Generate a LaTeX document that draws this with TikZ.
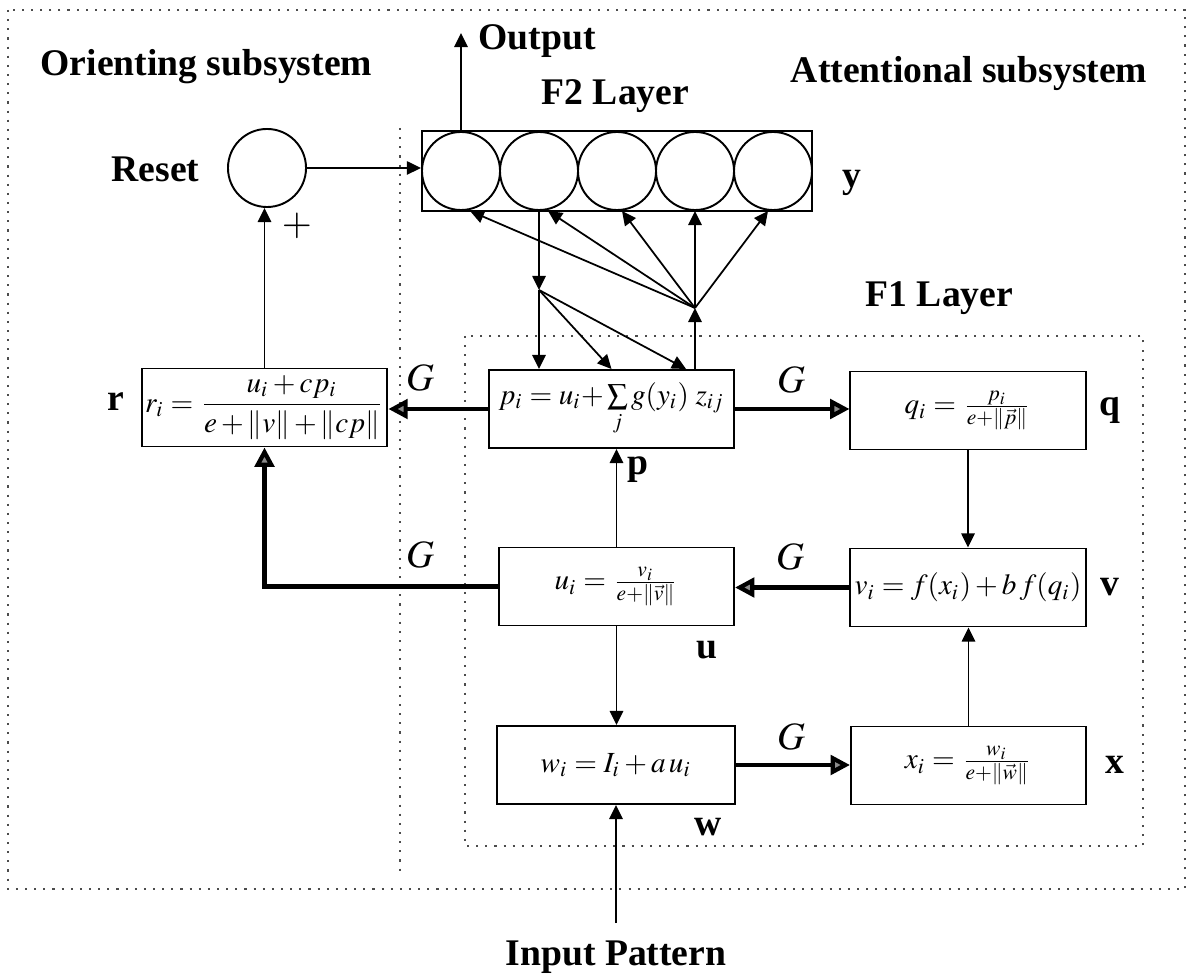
\documentclass[tikz,border=0pt]{standalone}
\usepackage{amsmath}
\usepackage{mathptmx}
\usepackage{fontspec}
\setmainfont{Liberation Serif}
\usetikzlibrary{arrows.meta, positioning, calc}

\begin{document}
\begin{tikzpicture}[x=0.01cm, y=-0.01cm,
  eqbox/.style={draw, line width=0.55pt, minimum width=2.35cm, minimum height=0.78cm, inner sep=1pt, font=\fontsize{8.3}{10}\selectfont},
  cell/.style={draw, circle, minimum size=0.78cm, inner sep=0pt, line width=0.55pt},
  lbl/.style={font=\bfseries\fontsize{10.7}{13}\selectfont, inner sep=0pt},
  gain/.style={font=\fontsize{11}{13}\selectfont, inner sep=0pt},
  zone/.style={dotted, line width=0.6pt, black!70},
  link/.style={line width=0.5pt, -{Triangle[length=4pt,width=3.8pt]}},
  gainlink/.style={line width=1.2pt, -{Triangle[length=5.5pt,width=5.5pt,fill=black!45]}}]
  \useasboundingbox (0,0) rectangle (1186,974);

  % dotted frames
  \draw[zone] (8,10) rectangle (1185,889);
  \draw[zone] (400,128) -- (400,874);
  \draw[zone] (465,336) rectangle (1143,846);

  % F2 layer and reset cell
  \node[draw, line width=0.55pt, minimum width=3.9cm, minimum height=0.8cm, inner sep=0pt] (F2) at (617,171) {};
  \foreach \i in {1,...,5}
    \node[cell] (c\i) at ({461+78*(\i-1)},171) {};
  \node[cell] (reset) at (267,168) {};

  % F1 layer equations
  \node[eqbox] (r) at (264.5,407.5) {$r_i = \dfrac{u_i + cp_i}{e+\|v\|+\|cp\|}$};
  \node[eqbox, minimum width=2.45cm] (p) at (611.5,409) {$p_i = u_i{+}\sum\limits_j g(y_i)\; z_{ij}$};
  \node[eqbox] (q) at (968,410.5) {$q_i = \frac{p_i}{e+\left\|\vec{p}\right\|}$};
  \node[eqbox] (u) at (616.5,586.5) {$u_i = \frac{v_i}{e+\left\|\vec{v}\right\|}$};
  \node[eqbox] (v) at (968,587.5) {$v_i = f(x_i) + b\, f(q_i)$};
  \node[eqbox, minimum width=2.38cm] (w) at (616,765) {$w_i = I_i + a\, u_i$};
  \node[eqbox] (x) at (968.5,765.5) {$x_i = \frac{w_i}{e+\left\|\vec{w}\right\|}$};

  \coordinate (out) at (461,33);
  \coordinate (fanUp) at (695,308);
  \coordinate (fanDown) at (539,290);
  \coordinate (inp) at (616,923);

  % titles and labels
  \node[lbl, anchor=base west] (orienting) at (40,76) {Orienting subsystem};
  \node[lbl, anchor=base east] (attentional) at (1148,83) {Attentional subsystem};
  \node[lbl, anchor=base west] (output) at (478,50) {Output};
  \node[lbl, anchor=base west] (f2name) at (541,105) {F2 Layer};
  \node[lbl, anchor=base west] (f1name) at (865,307) {F1 Layer};
  \node[lbl, anchor=base] (inname) at (616,965) {Input Pattern};
  \node[lbl, anchor=base west] (resetname) at (111,182) {Reset};
  \node[gain] (plus) at (297,226) {$+$};
  \node[lbl] (ylbl) at (852,183) {y};
  \node[lbl] (rlbl) at (116,402) {r};
  \node[lbl] (plbl) at (638,470) {p};
  \node[lbl] (qlbl) at (1110,410) {q};
  \node[lbl] (ulbl) at (707,650) {u};
  \node[lbl] (vlbl) at (1110,587) {v};
  \node[lbl] (wlbl) at (708,827) {w};
  \node[lbl] (xlbl) at (1115,765) {x};
  \node[gain] (g1) at (420,378) {$G$};
  \node[gain] (g2) at (791,380) {$G$};
  \node[gain] (g3) at (420,555) {$G$};
  \node[gain] (g4) at (790,557) {$G$};
  \node[gain] (g5) at (791,737) {$G$};

  % connectors around F2
  \draw[link] (c1.north) -- (out);
  \draw[link] (reset.east) -- (reset.east -| F2.west);
  \draw[link] (r.north) -- (r.north |- reset.south);
  \draw[link] (fanUp) -- ([xshift=0.09cm]c1.south);
  \draw[link] (fanUp) -- ([xshift=0.09cm]c2.south);
  \draw[link] (fanUp) -- ([xshift=0.05cm]c3.south);
  \draw[link] (fanUp) -- (c4.south);
  \draw[link] (fanUp) -- ([xshift=-0.05cm]c5.south);
  \draw[link] (p.north -| fanUp) -- (fanUp);
  \draw[link] (c2.south) -- (fanDown);
  \draw[link] (fanDown) -- (fanDown |- p.north);
  \draw[link] (fanDown) -- (p.north);
  \draw[link] (fanDown) -- ([xshift=0.745cm]p.north);

  % connectors inside F1
  \draw[gainlink] (p.west) -- (p.west -| r.east);
  \draw[gainlink] (p.east) -- (p.east -| q.west);
  \draw[link] (q.south) -- (v.north);
  \draw[gainlink] (v.west) -- (v.west -| u.east);
  \draw[link] (u.north) -- (u.north |- p.south);
  \draw[gainlink] (u.west) -- (u.west -| r.south) -- (r.south);
  \draw[link] (u.south) -- (u.south |- w.north);
  \draw[gainlink] (w.east) -- (w.east -| x.west);
  \draw[link] (x.north) -- (x.north |- v.south);
  \draw[link] (inp) -- (inp |- w.south);
\end{tikzpicture}
\end{document}
